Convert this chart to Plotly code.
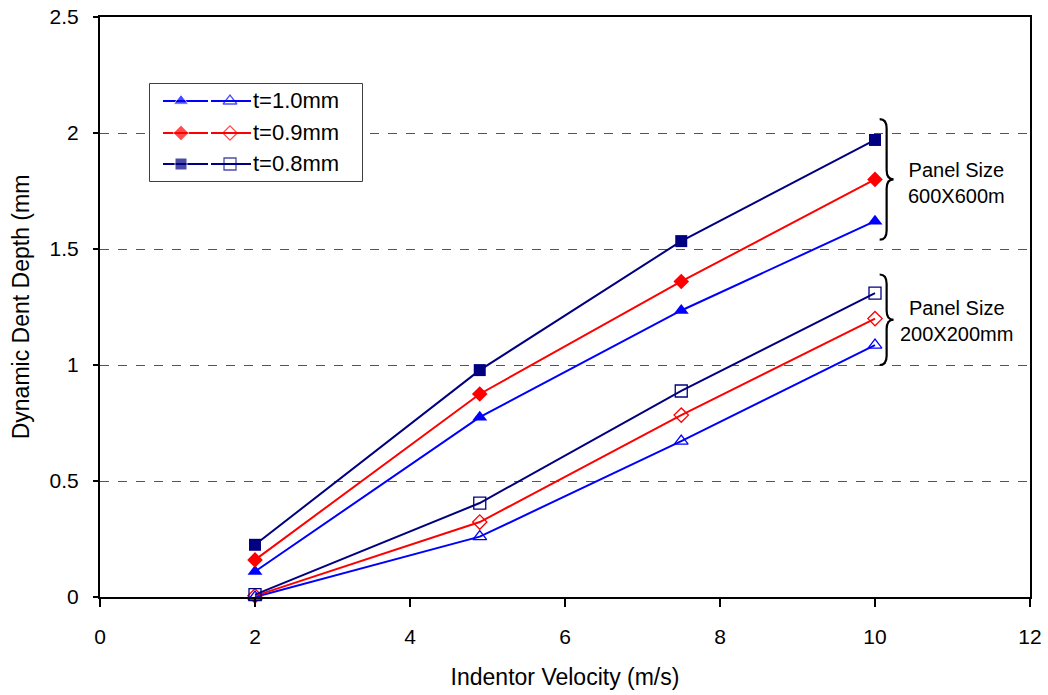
import plotly.graph_objects as go

# Indentor velocity (m/s)
velocity = [2, 4.9, 7.5, 10]

# Dynamic dent depth (mm), panel 600x600
big_t10 = [0.11, 0.775, 1.235, 1.62]
big_t09 = [0.16, 0.875, 1.36, 1.80]
big_t08 = [0.225, 0.978, 1.534, 1.97]

# Dynamic dent depth (mm), panel 200x200
small_t10 = [0.0, 0.26, 0.672, 1.086]
small_t09 = [0.005, 0.323, 0.784, 1.20]
small_t08 = [0.01, 0.405, 0.888, 1.31]

labels = ["t=1.0mm", "t=0.9mm", "t=0.8mm"]
colors = ["#0000FF", "#FF0000", "#000080"]
filled_symbols = ["triangle-up", "diamond", "square"]
open_symbols = ["triangle-up-open", "diamond-open", "square-open"]
filled_sizes = [13, 12, 12]
open_sizes = [12, 11, 12]

FONT = "Arial, Liberation Sans, sans-serif"

fig = go.Figure()

big = [big_t10, big_t09, big_t08]
small = [small_t10, small_t09, small_t08]

for i in range(3):
    fig.add_trace(go.Scatter(
        x=velocity, y=small[i], mode="lines+markers",
        line=dict(color=colors[i], width=2),
        marker=dict(symbol=open_symbols[i], size=open_sizes[i], color=colors[i],
                    line=dict(width=1.3, color=colors[i])),
        showlegend=False, cliponaxis=False))
for i in range(3):
    fig.add_trace(go.Scatter(
        x=velocity, y=big[i], mode="lines+markers",
        line=dict(color=colors[i], width=2),
        marker=dict(symbol=filled_symbols[i], size=filled_sizes[i], color=colors[i]),
        showlegend=False, cliponaxis=False))

# Hand-drawn legend on an overlay axis measured in pixels
row_y = [101, 133, 164]
for i in range(3):
    fig.add_trace(go.Scatter(
        x=[163, 181, 208], y=[row_y[i]] * 3, mode="lines+markers",
        line=dict(color=colors[i], width=2),
        marker=dict(symbol=filled_symbols[i], size=[0, filled_sizes[i], 0], color=colors[i]),
        xaxis="x2", yaxis="y2", showlegend=False, hoverinfo="skip"))
    fig.add_trace(go.Scatter(
        x=[211, 230, 251], y=[row_y[i]] * 3, mode="lines+markers",
        line=dict(color=colors[i], width=2),
        marker=dict(symbol=open_symbols[i], size=[0, open_sizes[i], 0], color=colors[i],
                    line=dict(width=1.3, color=colors[i])),
        xaxis="x2", yaxis="y2", showlegend=False, hoverinfo="skip"))
    fig.add_annotation(x=251, y=row_y[i], xref="x2", yref="y2", text=labels[i],
                       showarrow=False, xanchor="left", yanchor="middle",
                       font=dict(family=FONT, size=22, color="black"))


def brace(x0, ytop, ybot, dx=0.09, dy=0.04):
    ymid = (ytop + ybot) / 2
    x1 = x0 + dx
    x2 = x0 + 2 * dx
    return (f"M {x0},{ytop} Q {x1},{ytop} {x1},{ytop - dy} "
            f"L {x1},{ymid + dy} Q {x1},{ymid} {x2},{ymid} "
            f"Q {x1},{ymid} {x1},{ymid - dy} "
            f"L {x1},{ybot + dy} Q {x1},{ybot} {x0},{ybot}")


shapes = [
    dict(type="rect", xref="paper", yref="paper", x0=(150 - 100) / 930, x1=(362 - 100) / 930,
         y0=(597 - 181) / 580, y1=(597 - 84) / 580,
         line=dict(color="black", width=1.5), fillcolor="white", layer="below"),
    dict(type="path", xref="x", yref="y", path=brace(10.06, 2.06, 1.54),
         line=dict(color="black", width=2.2)),
    dict(type="path", xref="x", yref="y", path=brace(10.06, 1.39, 1.0),
         line=dict(color="black", width=2.2)),
]

fig.add_annotation(x=11.05, y=1.785, xref="x", yref="y", text="Panel Size<br>600X600m",
                   showarrow=False, font=dict(family=FONT, size=20, color="black"),
                   align="center")
fig.add_annotation(x=11.05, y=1.19, xref="x", yref="y", text="Panel Size<br>200X200mm",
                   showarrow=False, font=dict(family=FONT, size=20, color="black"),
                   align="center")

fig.update_layout(
    width=1048, height=695,
    margin=dict(l=100, r=18, t=17, b=98),
    paper_bgcolor="white", plot_bgcolor="white",
    font=dict(family=FONT, size=20, color="black"),
    shapes=shapes,
    xaxis=dict(range=[0, 12], tickvals=[0, 2, 4, 6, 8, 10, 12], showgrid=False,
               zeroline=False, showline=True, linecolor="black", linewidth=2, mirror=True,
               ticks="outside", ticklen=8, tickwidth=1.5, tickcolor="black",
               tickfont=dict(size=21), ticklabelstandoff=12, automargin=False,
               title=dict(text="Indentor Velocity (m/s)", font=dict(size=23), standoff=22)),
    yaxis=dict(range=[0, 2.5], tickvals=[0, 0.5, 1, 1.5, 2, 2.5],
               ticktext=["0", "0.5", "1", "1.5", "2", "2.5"],
               showgrid=True, gridcolor="#555555", griddash="dash", gridwidth=1,
               zeroline=False, showline=True, linecolor="black", linewidth=2, mirror=True,
               ticks="outside", ticklen=5, tickwidth=1.5, tickcolor="black",
               tickfont=dict(size=21), ticklabelstandoff=10, automargin=False,
               title=dict(text="Dynamic Dent Depth (mm", font=dict(size=23), standoff=14)),
    xaxis2=dict(domain=[(150 - 100) / 930, (362 - 100) / 930], range=[150, 362],
                visible=False, anchor="y2", fixedrange=True),
    yaxis2=dict(domain=[(597 - 181) / 580, (597 - 84) / 580], range=[181, 84],
                visible=False, anchor="x2", fixedrange=True),
)

fig.write_html("out.html")
